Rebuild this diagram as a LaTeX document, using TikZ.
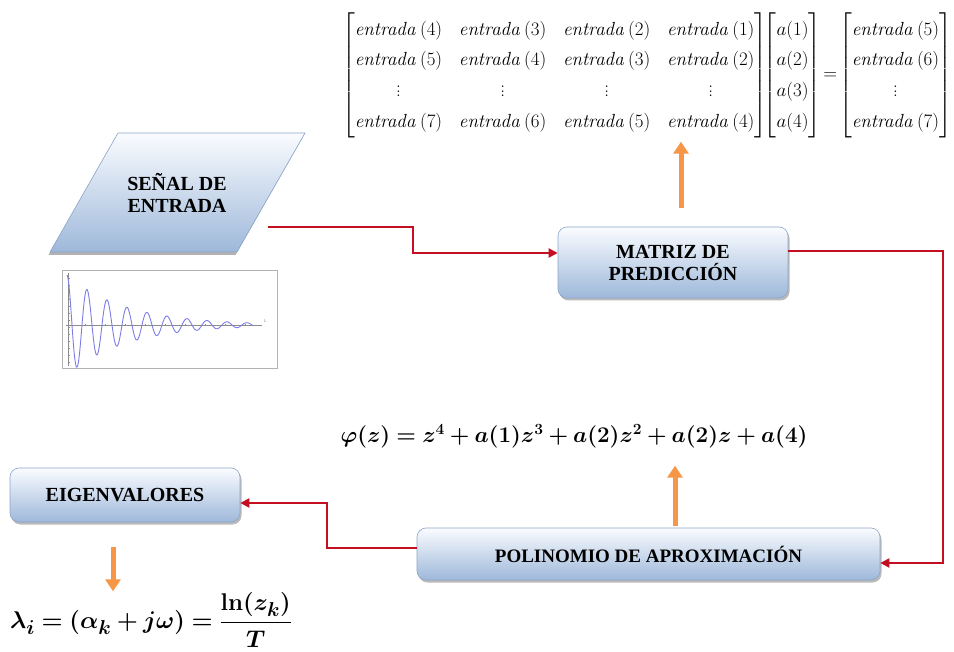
\documentclass[tikz,border=0pt]{standalone}
\usepackage{amsmath,bm}
\usepackage[no-math]{fontspec}
\newfontfamily\boxfont{Liberation Serif}
\usetikzlibrary{arrows.meta,shadows}
\definecolor{redline}{RGB}{196,14,34}
\definecolor{orangearr}{RGB}{247,150,70}
\definecolor{boxtop}{RGB}{250,252,255}
\definecolor{boxbot}{RGB}{158,184,218}
\definecolor{boxedge}{RGB}{140,165,200}
\definecolor{wavecol}{RGB}{125,125,230}
\newcommand\phieq{\scalebox{1.08}{$\bm{\varphi(z) = z^4 + a(1)z^3 + a(2)z^2 + a(2)z + a(4)}$}}
\newcommand\lameq{\scalebox{0.97}{$\bm{\lambda_i = (\alpha_k + j\omega) = \dfrac{\ln(z_k)}{T}}$}}
\newcommand\ent[1]{\mathit{entrada}\,(#1)}
\tikzset{
  procbox/.style={draw=boxedge, line width=0.6pt, rounded corners=9pt,
    top color=boxtop, bottom color=boxbot,
    drop shadow={shadow xshift=1.5pt, shadow yshift=-2.5pt, opacity=0.45, fill=black!60},
    font=\boxfont\bfseries\fontsize{20}{22}\selectfont, align=center, inner sep=0pt},
  flow/.style={draw=redline, line width=2pt, -{Triangle[length=9pt,width=9pt]}},
  bigarrow/.style={draw=orangearr, line width=5pt, -{Triangle[length=12pt,width=15pt]}},
  eqn/.style={inner sep=0pt},
  boxlabel/.style={font=\boxfont\bfseries\fontsize{20}{22}\selectfont, align=center, inner sep=0pt}
}
\begin{document}
\begin{tikzpicture}[x=1pt,y=-1pt]
\useasboundingbox (0,0) rectangle (954,652);
\fill[white] (0,0) rectangle (954,652);

% matrix equation
\node[font=\fontsize{17.28}{20.3}\selectfont, inner sep=0pt, anchor=west] (mat) at (342,75) {\scalebox{1.10}{$\setlength\arraycolsep{7.6pt}\renewcommand{\arraystretch}{1.37}%
\begin{bmatrix}
\ent{4} & \ent{3} & \ent{2} & \ent{1}\\
\ent{5} & \ent{4} & \ent{3} & \ent{2}\\
\vdots & \vdots & \vdots & \vdots\\
\ent{7} & \ent{6} & \ent{5} & \ent{4}
\end{bmatrix}\!\!\setlength\arraycolsep{1.5pt}\begin{bmatrix} a(1)\\ a(2)\\ a(3)\\ a(4)\end{bmatrix}
\!=\!\setlength\arraycolsep{0pt}\begin{bmatrix}\ent{5}\\ \ent{6}\\ \vdots\\ \ent{7}\end{bmatrix}$}};

% input parallelogram
\path[draw=boxedge, line width=0.6pt, top color=boxtop, bottom color=boxbot,
  drop shadow={shadow xshift=-1.5pt, shadow yshift=-3pt, opacity=0.5, fill=black!60}]
  (50,252) -- (118,133) -- (305,133) -- (237,252) -- cycle;
\node[boxlabel] (senal) at (177,193) {SEÑAL DE\\ENTRADA};
\coordinate (sout) at (268,227);

% signal plot
\draw[draw=black!30, fill=white] (62,270) rectangle (277,368);
\draw[black!45, line width=0.4pt] (68,273) -- (68,366);
\draw[black!45, line width=0.4pt] (66,325) -- (262,325);
\foreach \yy in {278,285,...,364} \draw[black!45, line width=0.3pt] (68,\yy) -- (70,\yy);
\foreach \xx in {85,105,...,255} \draw[black!45, line width=0.3pt] (\xx,324) -- (\xx,326);
\node[font=\fontsize{4}{4}\selectfont, text=black!60, inner sep=0pt] (one) at (265,321) {1};
\draw[wavecol, line width=0.9pt] plot[domain=0:186, samples=500, smooth] ({67+\x},{325-50*exp(-\x/58)*cos(18*\x)});

% process boxes
\node[procbox, minimum width=230pt, minimum height=71pt] (matriz) at (673,262.5) {MATRIZ DE\\PREDICCIÓN};
\node[procbox, minimum width=463pt, minimum height=52pt, font=\boxfont\bfseries\fontsize{19}{22}\selectfont] (poli) at (648.5,554) {POLINOMIO DE APROXIMACIÓN};
\node[procbox, minimum width=230pt, minimum height=54pt] (eigen) at (125,495) {EIGENVALORES};

% formulas
\node[eqn, font=\fontsize{20.74}{25}\selectfont] (phieqn) at (574,436) {\phieq};
\node[eqn, font=\fontsize{24.88}{29}\selectfont] (lameqn) at (151,620) {\lameq};

% red connectors
\draw[flow] (sout) -- (413,227) |- ([yshift=9.5pt]matriz.west);
\draw[flow] ([yshift=11pt]matriz.east) -- (943,251.5) |- ([yshift=-9pt]poli.east);
\draw[flow] ([yshift=6pt]poli.west) -- (327,548) |- ([yshift=-8pt]eigen.east);

% orange arrows
\draw[bigarrow] ([xshift=8pt,yshift=19pt]matriz.north) -- ++(0,-66);
\draw[bigarrow] ([xshift=26.5pt,yshift=2pt]poli.north) -- ++(0,-60);
\draw[bigarrow] ([xshift=-12pt,yshift=-25pt]eigen.south) -- ++(0,44);
\end{tikzpicture}
\end{document}
